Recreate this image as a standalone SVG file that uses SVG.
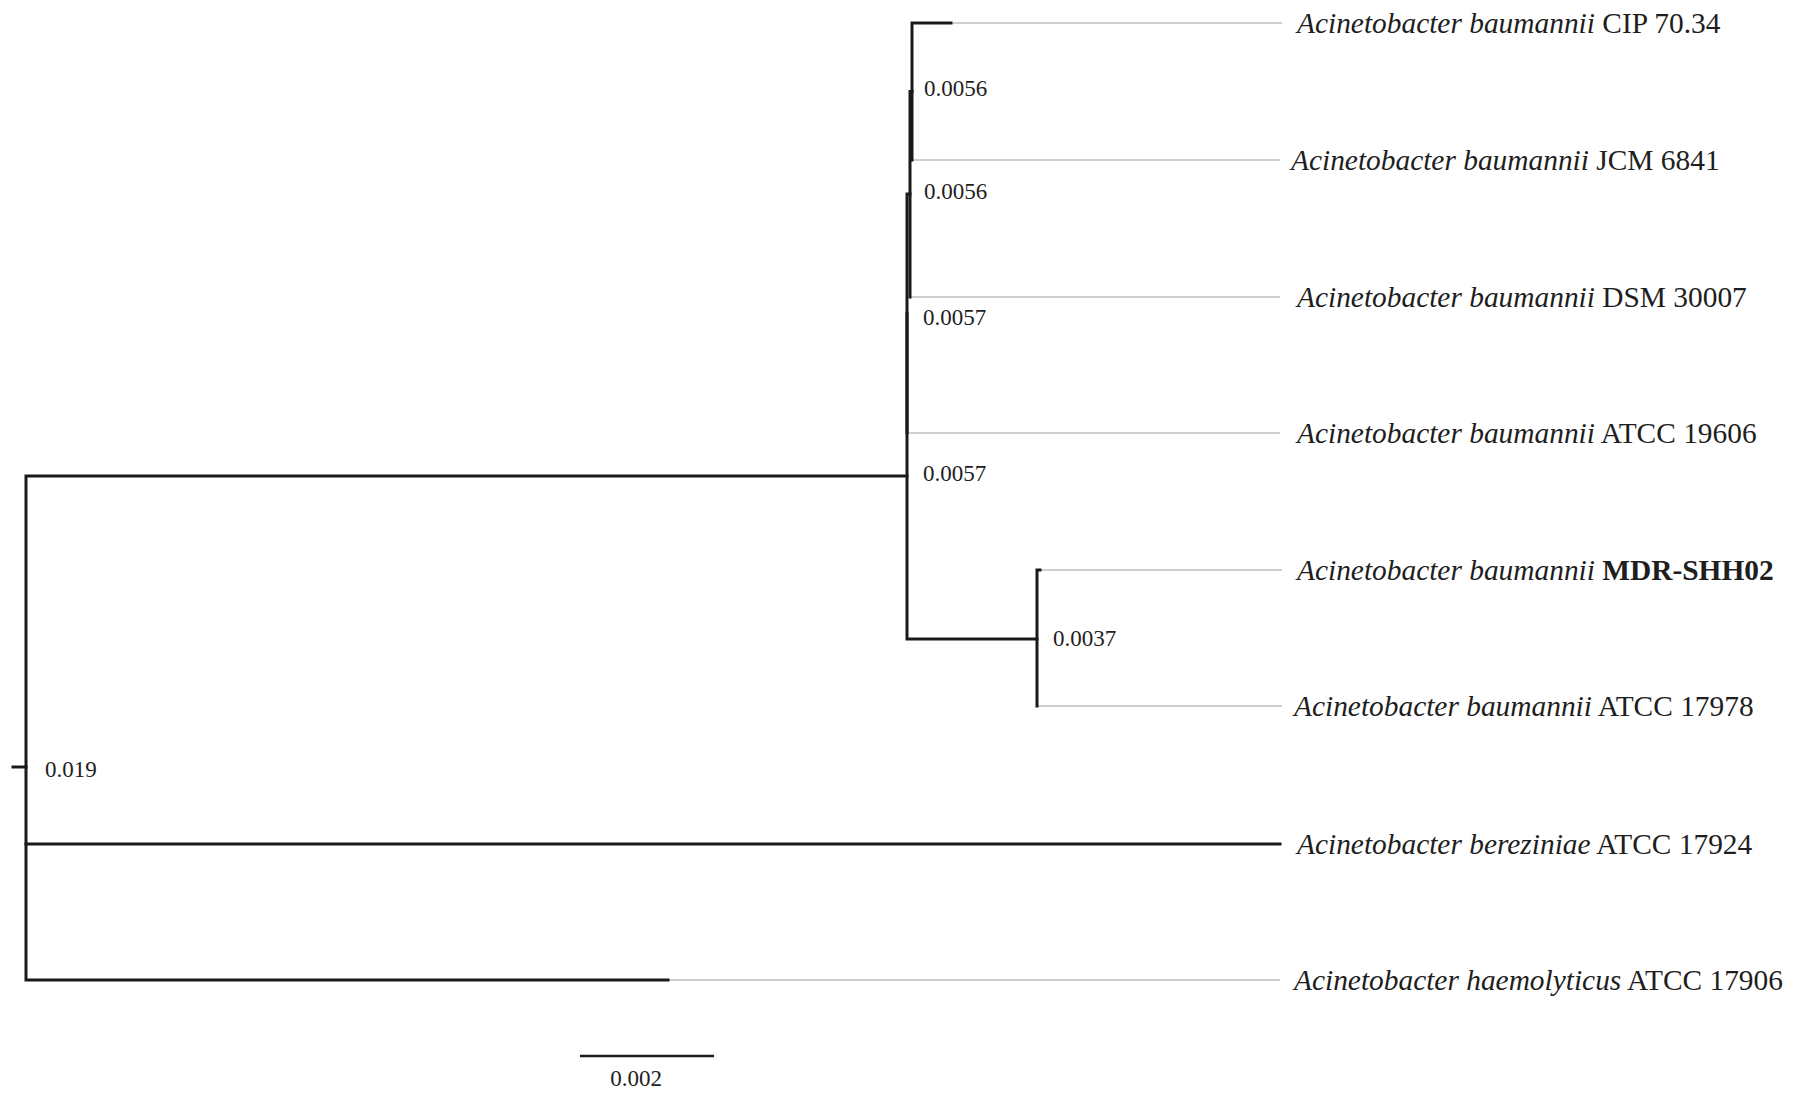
<svg xmlns="http://www.w3.org/2000/svg" width="1795" height="1100" viewBox="0 0 1795 1100">
<style>
.br{stroke:#1a1a1a;stroke-width:3;fill:none;stroke-linecap:square}
.gl{stroke:#cfcfcf;stroke-width:2;fill:none}
.tx{font-family:"Liberation Serif","Times New Roman",serif;font-size:29.4px;fill:#1e1e1e}
.num{font-family:"Liberation Serif","Times New Roman",serif;font-size:23px;fill:#1e1e1e}
.it{font-style:italic}
.bd{font-weight:bold}
</style>
<rect width="1795" height="1100" fill="#ffffff"/>
<g id="connectors">
  <!-- guide lines -->
  <line class="gl" x1="951" y1="23" x2="1282" y2="23"/>
  <line class="gl" x1="912" y1="160" x2="1280" y2="160"/>
  <line class="gl" x1="910" y1="297" x2="1280" y2="297"/>
  <line class="gl" x1="907" y1="433" x2="1280" y2="433"/>
  <line class="gl" x1="1040" y1="570" x2="1282" y2="570"/>
  <line class="gl" x1="1037" y1="706" x2="1282" y2="706"/>
  <line class="gl" x1="668" y1="980" x2="1280" y2="980"/>
  <!-- branches -->
  <path class="br" d="M951 23 H912 V160"/>
  <path class="br" d="M912 91.5 H910 V297"/>
  <path class="br" d="M910 194 H907 V433"/>
  <path class="br" d="M907 313.5 V639 H1037"/>
  <path class="br" d="M1040 570 H1037 V706"/>
  <path class="br" d="M907 476 H26 V980 H668"/>
  <path class="br" d="M26 844 H1280"/>
  <path class="br" d="M13 767 H26"/>
  <!-- scale bar -->
  <line class="br" x1="580" y1="1056" x2="714" y2="1056" style="stroke-width:2.5;stroke-linecap:butt"/>
</g>
<g id="support-values">
  <text class="num" x="924" y="96">0.0056</text>
  <text class="num" x="924" y="199">0.0056</text>
  <text class="num" x="923" y="325">0.0057</text>
  <text class="num" x="923" y="481">0.0057</text>
  <text class="num" x="1053" y="646">0.0037</text>
  <text class="num" x="45" y="777">0.019</text>
  <text class="num" x="636" y="1086" text-anchor="middle">0.002</text>
</g>
<g id="taxon-cip"><text class="tx" x="1297" y="33"><tspan class="it">Acinetobacter baumannii</tspan> CIP 70.34</text></g>
<g id="taxon-jcm"><text class="tx" x="1291" y="170"><tspan class="it">Acinetobacter baumannii</tspan> JCM 6841</text></g>
<g id="taxon-dsm"><text class="tx" x="1297" y="307"><tspan class="it">Acinetobacter baumannii</tspan> DSM 30007</text></g>
<g id="taxon-atcc19606"><text class="tx" x="1297" y="443"><tspan class="it">Acinetobacter baumannii</tspan> ATCC 19606</text></g>
<g id="taxon-mdr"><text class="tx" x="1297" y="580"><tspan class="it">Acinetobacter baumannii</tspan> <tspan class="bd">MDR-SHH02</tspan></text></g>
<g id="taxon-atcc17978"><text class="tx" x="1294" y="716"><tspan class="it">Acinetobacter baumannii</tspan> ATCC 17978</text></g>
<g id="taxon-bereziniae"><text class="tx" x="1297" y="854"><tspan class="it">Acinetobacter bereziniae</tspan> ATCC 17924</text></g>
<g id="taxon-haemolyticus"><text class="tx" x="1294" y="990"><tspan class="it">Acinetobacter haemolyticus</tspan> ATCC 17906</text></g>
</svg>
